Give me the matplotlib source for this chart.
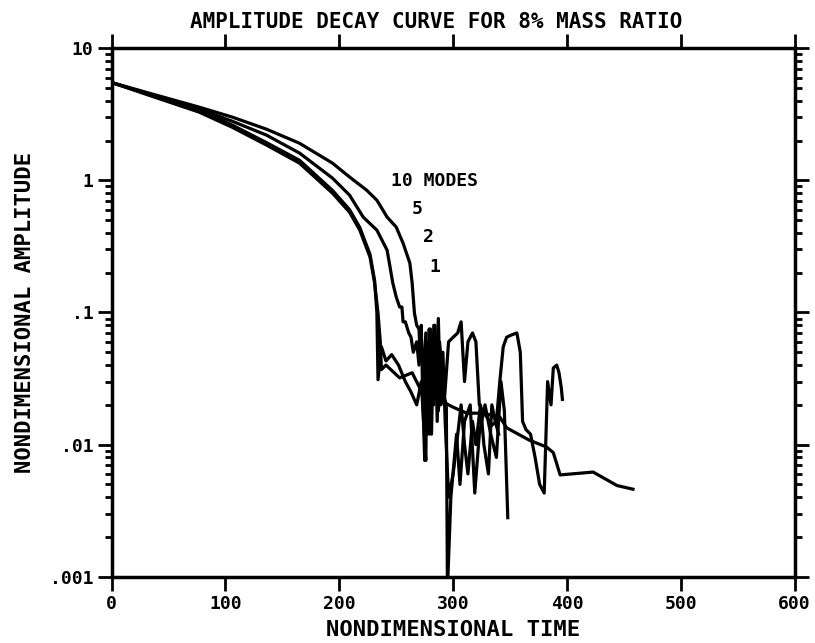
import matplotlib
matplotlib.use('Agg')
import matplotlib.pyplot as plt
from matplotlib.ticker import FixedLocator, LogLocator, NullFormatter

plt.rcParams['font.family'] = 'DejaVu Sans Mono'
plt.rcParams['font.weight'] = 'bold'

# 1 mode (smooth tail)
t_1 = [0, 33, 77, 106, 136, 165, 194, 209, 218, 227, 231, 234, 236, 237, 241, 253,
       264, 273, 288, 300, 312, 326, 341, 347, 367, 382, 388, 394, 423, 444, 458]
a_1 = [5.5, 4.4, 3.28, 2.52, 1.85, 1.35, 0.80, 0.574, 0.42, 0.262, 0.167, 0.099,
       0.06, 0.037, 0.04, 0.032, 0.035, 0.0245, 0.0217, 0.0192, 0.0173, 0.0173,
       0.0162, 0.0134, 0.0108, 0.0096, 0.0087, 0.0059, 0.0062, 0.0049, 0.0046]

# 2 modes
t_2 = [0, 33, 77, 106, 136, 165, 194, 209, 218, 227, 231, 233, 234, 237, 241, 246,
       252, 258, 263, 268, 272, 274, 276, 277, 279, 281, 283, 285, 287, 289, 291,
       294, 295, 298, 303, 306, 310, 315, 319, 323, 328, 333, 338, 342, 345, 348]
a_2 = [5.5, 4.45, 3.4, 2.62, 1.93, 1.42, 0.84, 0.6, 0.44, 0.275, 0.175, 0.1, 0.031,
       0.055, 0.043, 0.048, 0.04, 0.03, 0.025, 0.02, 0.03, 0.015, 0.0076, 0.04,
       0.012, 0.05, 0.02, 0.06, 0.018, 0.04, 0.025, 0.02, 0.0008, 0.004, 0.012,
       0.005, 0.015, 0.02, 0.0043, 0.012, 0.02, 0.012, 0.008, 0.03, 0.018, 0.0028]

# 5 modes
t_5 = [0, 33, 77, 106, 136, 165, 194, 209, 221, 233, 242, 247, 250, 253, 255, 256,
       258, 261, 263, 265, 268, 270, 272, 274, 276, 278, 280, 282, 284, 286, 288,
       290, 292, 296, 300, 304, 307, 310, 313, 317, 320, 323, 326, 330, 334, 338,
       341, 344, 347, 352, 356, 359, 361, 364, 368, 372, 376, 380, 383, 386, 388,
       391, 393, 395, 396]
a_5 = [5.5, 4.5, 3.46, 2.8, 2.2, 1.61, 1.04, 0.773, 0.527, 0.42, 0.296, 0.167,
       0.131, 0.11, 0.11, 0.085, 0.085, 0.07, 0.065, 0.05, 0.06, 0.04, 0.065, 0.03,
       0.07, 0.02, 0.075, 0.025, 0.08, 0.015, 0.06, 0.04, 0.02, 0.06, 0.065, 0.07,
       0.085, 0.03, 0.06, 0.07, 0.06, 0.02, 0.018, 0.016, 0.014, 0.015, 0.03, 0.055,
       0.065, 0.068, 0.07, 0.05, 0.015, 0.013, 0.012, 0.008, 0.005, 0.0043, 0.03,
       0.02, 0.038, 0.04, 0.035, 0.027, 0.022]

# 10 modes
t_10 = [0, 33, 77, 106, 136, 165, 194, 209, 224, 233, 242, 250, 256, 262, 264, 266,
        268, 270, 271, 272, 273, 275, 276, 278, 279, 281, 283, 285, 287, 289, 291,
        293, 296, 300, 303, 307, 310, 313, 317, 320, 324, 327, 331, 334, 337, 340]
a_10 = [5.5, 4.57, 3.58, 3.01, 2.44, 1.91, 1.35, 1.06, 0.843, 0.708, 0.527, 0.443,
        0.335, 0.236, 0.167, 0.099, 0.08, 0.075, 0.05, 0.08, 0.03, 0.0076, 0.06,
        0.02, 0.075, 0.012, 0.08, 0.03, 0.09, 0.02, 0.05, 0.015, 0.004, 0.006, 0.01,
        0.02, 0.01, 0.006, 0.015, 0.01, 0.02, 0.01, 0.006, 0.02, 0.015, 0.012]

curves = [(t_1, a_1), (t_2, a_2), (t_5, a_5), (t_10, a_10)]

x_ticks = [0, 100, 200, 300, 400, 500, 600]
y_ticks = [0.001, 0.01, 0.1, 1, 10]
y_tick_labels = ['.001', '.01', '.1', '1', '10']

fig = plt.figure(figsize=(8.15, 6.43), dpi=100)
ax = fig.add_axes([0.137, 0.103, 0.838, 0.822])

for t, a in curves:
    ax.plot(t, a, color='black', lw=2.3, solid_joinstyle='round')

ax.set_yscale('log')
ax.set_xlim(0, 600)
ax.set_ylim(0.001, 10)
ax.xaxis.set_major_locator(FixedLocator(x_ticks))
ax.set_xticklabels([str(v) for v in x_ticks])
ax.yaxis.set_major_locator(FixedLocator(y_ticks))
ax.set_yticklabels(y_tick_labels)
ax.yaxis.set_minor_locator(LogLocator(base=10, subs=range(2, 10)))
ax.yaxis.set_minor_formatter(NullFormatter())

for s in ax.spines.values():
    s.set_linewidth(2.5)
ax.tick_params(which='both', direction='out', top=True, right=True,
               width=2, labelsize=13, pad=3)
ax.tick_params(which='major', length=10)
ax.tick_params(which='minor', length=5)

ax.text(284, 0.99, '10 MODES', fontsize=13, fontweight='bold', ha='center', va='center')
ax.text(268, 0.605, '5', fontsize=13, fontweight='bold', ha='center', va='center')
ax.text(278, 0.37, '2', fontsize=13, fontweight='bold', ha='center', va='center')
ax.text(284, 0.22, '1', fontsize=13, fontweight='bold', ha='center', va='center')

# title sits a little left of the axes centre in the original
fig.text(0.535, 0.966, 'AMPLITUDE DECAY CURVE FOR 8% MASS RATIO', fontsize=15,
         fontweight='bold', ha='center', va='center')
ax.set_xlabel('NONDIMENSIONAL TIME', fontsize=16, fontweight='bold', labelpad=5)
ax.set_ylabel('NONDIMENSIONAL AMPLITUDE', fontsize=16, fontweight='bold', labelpad=11)

fig.savefig('out.png', dpi=100)
